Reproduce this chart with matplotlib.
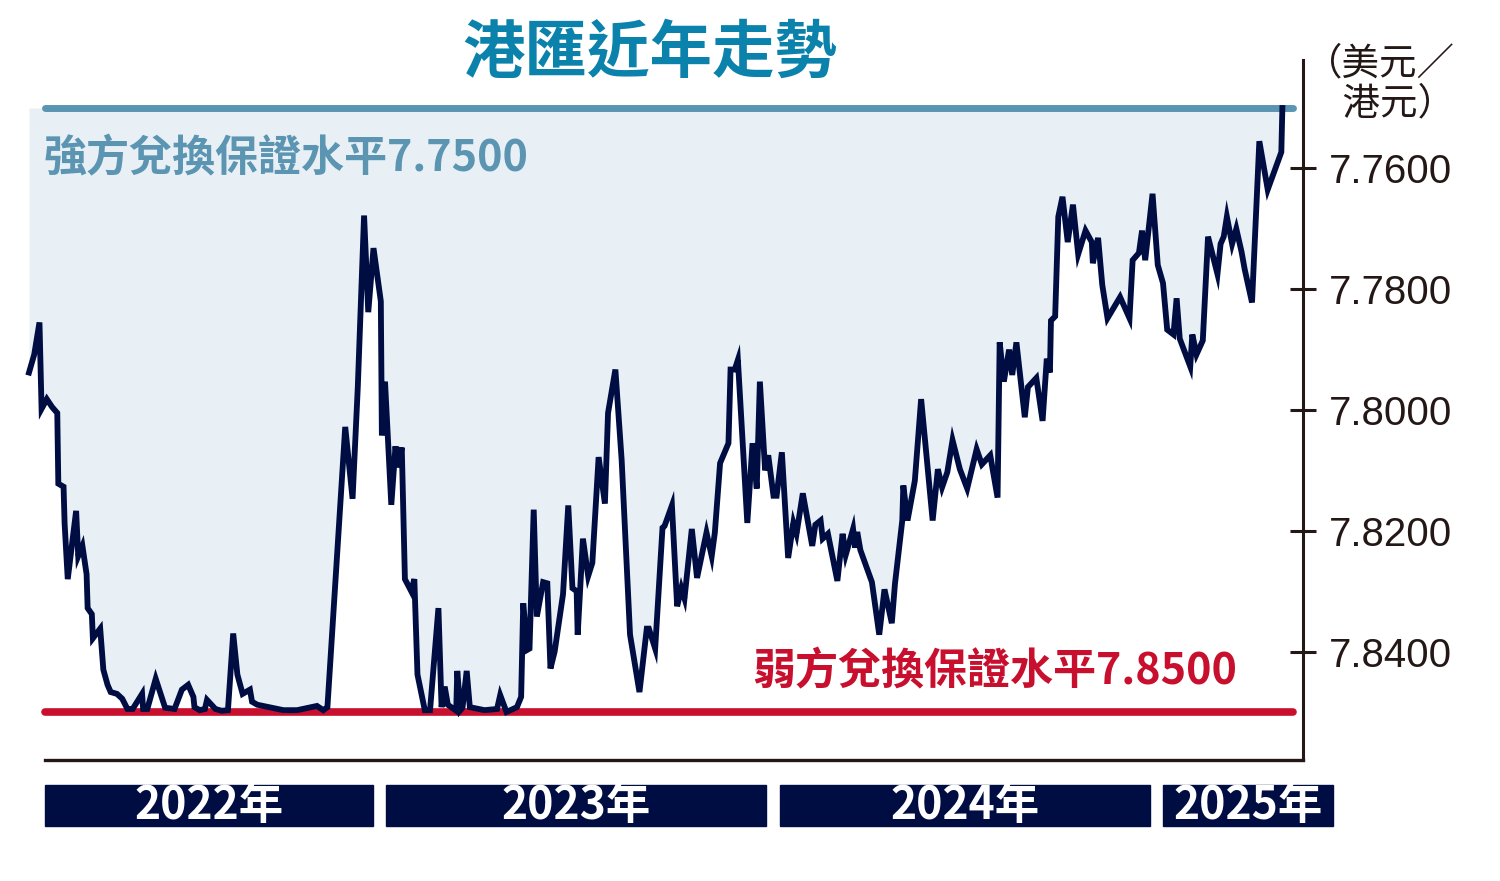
import numpy as np
import matplotlib
matplotlib.use("Agg")
import matplotlib.pyplot as plt
from matplotlib.patches import Rectangle

# ---------------- data ----------------
start_date = "2022-01-24"  # day 0 of the series
days = [0, 5, 10, 12, 17, 22, 27, 28, 33, 34, 37, 45, 47, 51, 55, 56, 60, 61, 68, 71,
        75, 78, 84, 89, 94, 99, 108, 109, 113, 121, 130, 139, 146, 152, 157, 158, 163, 168, 170, 178,
        184, 190, 195,
        199, 204, 211, 213, 218, 243, 256, 275, 281, 285, 302, 309, 314, 320, 324, 329, 336, 337, 340,
        346, 350, 352, 356, 359, 365, 368, 371, 378, 383, 391,
        394, 397, 400, 408, 409, 412, 414, 418, 421, 435, 447, 450, 456, 466, 470, 472, 476, 478, 482,
        485, 491, 495, 498, 502, 510, 515, 519, 523, 524, 529, 534, 538, 544, 550, 553, 560, 566, 574, 583,
        590, 592, 598, 605, 607, 614, 619, 623, 626, 633, 638, 647, 652, 655, 660, 668, 670, 674, 677,
        686, 691, 695, 698, 703, 706, 711, 714, 719, 725, 730, 733, 739,
        748, 751, 756, 758, 763, 772, 777, 780, 787, 789, 791, 794, 805, 812, 817, 824, 827, 834, 835,
        839, 846, 852, 863, 868, 872, 877, 882, 889, 896, 905, 910, 918, 925, 927, 931, 936, 939, 943,
        951, 954, 962, 968, 972, 975, 976, 980, 983, 987, 992, 997, 1002, 1009, 1015, 1016, 1021, 1025,
        1030, 1042, 1051, 1054, 1060, 1063, 1066, 1073, 1078, 1083, 1087, 1093, 1096, 1099, 1109, 1111,
        1115, 1121, 1126, 1135, 1138, 1141, 1144, 1149, 1153, 1158, 1161, 1168, 1175, 1183, 1196, 1197]

usd_hkd = [7.7938, 7.7908, 7.7855, 7.7998, 7.7982, 7.7995, 7.8005, 7.8122, 7.8127, 7.8188, 7.8280,
           7.8167, 7.8242, 7.8225, 7.8272, 7.8328, 7.8338, 7.8378, 7.8362, 7.8430, 7.8455, 7.8467,
           7.8470, 7.8478, 7.8495, 7.8495, 7.8470, 7.8495, 7.8495, 7.8445, 7.8493, 7.8495, 7.8463,
           7.8455, 7.8475, 7.8492, 7.8497, 7.8495, 7.8480, 7.8495, 7.8498, 7.8497, 7.8370,
           7.8438, 7.8470, 7.8463, 7.8483, 7.8488, 7.8497, 7.8497, 7.8490, 7.8497, 7.8492, 7.8028,
           7.8147, 7.7962, 7.7678, 7.7838, 7.7732, 7.7820, 7.8042, 7.7953, 7.8157, 7.8060, 7.8095,
           7.8062, 7.8280, 7.8300, 7.8280, 7.8438, 7.8497, 7.8497, 7.8328,
           7.8492, 7.8458, 7.8488, 7.8498, 7.8432, 7.8497, 7.8493, 7.8432, 7.8492, 7.8497, 7.8495,
           7.8472, 7.8500, 7.8492, 7.8475, 7.8320, 7.8397, 7.8395, 7.8165, 7.8342, 7.8285, 7.8287,
           7.8428, 7.8400, 7.8305, 7.8158, 7.8295, 7.8300, 7.8372, 7.8213, 7.8275, 7.8253, 7.8078,
           7.8155, 7.8005, 7.7933, 7.8083, 7.8372, 7.8467,
           7.8362, 7.8362, 7.8395, 7.8195, 7.8192, 7.8158, 7.8325, 7.8295, 7.8312, 7.8197, 7.8278,
           7.8203, 7.8242, 7.8203, 7.8088, 7.8055, 7.7933, 7.7933, 7.7917, 7.8187, 7.8055, 7.8130,
           7.7953, 7.8100, 7.8075, 7.8142, 7.8142, 7.8070, 7.8245, 7.8187, 7.8205, 7.8138,
           7.8225, 7.8190, 7.8183, 7.8213, 7.8205, 7.8283, 7.8205, 7.8240, 7.8197, 7.8228, 7.8202,
           7.8232, 7.8285, 7.8372, 7.8297, 7.8353, 7.8288, 7.8183, 7.8125, 7.8183, 7.8117, 7.7982,
           7.8183, 7.8098, 7.8128, 7.8103, 7.8050, 7.8098, 7.8130, 7.8065, 7.8090, 7.8075, 7.8145,
           7.7888, 7.7953, 7.7900, 7.7942, 7.7888, 7.8012, 7.7962, 7.7947, 7.8018, 7.7915, 7.7938,
           7.7852, 7.7845, 7.7680, 7.7647, 7.7722, 7.7660, 7.7742, 7.7703, 7.7722, 7.7757, 7.7715,
           7.7793, 7.7848, 7.7813, 7.7848, 7.7752, 7.7740, 7.7703, 7.7752, 7.7642, 7.7760, 7.7790,
           7.7867, 7.7875, 7.7815, 7.7882, 7.7928, 7.7875, 7.7908, 7.7885, 7.7713, 7.7775, 7.7725,
           7.7713, 7.7680, 7.7725, 7.7700, 7.7738, 7.7767, 7.7822, 7.7555, 7.7635, 7.7573, 7.7500]

strong_level = 7.75
weak_level = 7.85
strong_label = "強方兌換保證水平7.7500"
weak_label = "弱方兌換保證水平7.8500"
ytick_values = [7.76, 7.78, 7.80, 7.82, 7.84]
ytick_labels = ["7.7600", "7.7800", "7.8000", "7.8200", "7.8400"]
year_labels = ["2022年", "2023年", "2024年", "2025年"]
title = "港匯近年走勢"
unit_label = "（美元／\n\u3000港元）"

# ---------------- style ----------------
W, H = 1500, 881
CJK = ["Noto Sans CJK TC", "DejaVu Sans"]
plt.rcParams["font.family"] = CJK

navy = "#000d42"
fill_col = "#e8f0f6"
teal = "#5b95b2"
red = "#c8102e"
title_col = "#0a82ab"
axis_col = "#231815"


def fx(px):
    return px / W


def fy(py):
    return 1 - py / H


fig = plt.figure(figsize=(W / 100, H / 100), dpi=100)
ax = fig.add_axes([fx(20), fy(760), fx(1303) - fx(20), fy(60) - fy(760)])

x = np.array(days, dtype=float)
y = np.array(usd_hkd)

ax.fill_between(x, y, strong_level, color=fill_col, lw=0, zorder=1)
ax.plot([15.3, 1207], [strong_level, strong_level], color=teal, lw=5.0,
        solid_capstyle="round", zorder=2)
ax.plot([15.3, 1207], [weak_level, weak_level], color=red, lw=5.5,
        solid_capstyle="round", zorder=2)
ax.plot(x, y, color=navy, lw=4.2, solid_joinstyle="miter", zorder=3)

ax.set_xlim(-8.6, 1216.7)
ax.set_ylim(7.85795, 7.74205)

for s in ["top", "left"]:
    ax.spines[s].set_visible(False)
ax.spines["right"].set_color(axis_col)
ax.spines["right"].set_linewidth(2.2)
ax.spines["bottom"].set_color(axis_col)
ax.spines["bottom"].set_linewidth(2.4)
ax.spines["bottom"].set_bounds(15.3, 1216.7)
ax.set_xticks([])
ax.yaxis.tick_right()
ax.set_yticks(ytick_values)
ax.set_yticklabels(ytick_labels, fontfamily="Liberation Sans", fontsize=29, color=axis_col)
ax.tick_params(axis="y", direction="inout", length=19, width=2.2, color=axis_col, pad=9)
ax.patch.set_alpha(0)

# labels
fig.text(fx(650), fy(53), title, ha="center", va="center", fontsize=45,
         fontweight="bold", color=title_col)
fig.text(fx(44), fy(158), strong_label, ha="left", va="center", fontsize=31,
         fontweight="bold", color=teal)
fig.text(fx(752), fy(671), weak_label, ha="left", va="center", fontsize=31,
         fontweight="bold", color=red)
fig.text(fx(1305), fy(84), unit_label, ha="left", va="center", fontsize=27,
         color=axis_col, linespacing=1.02)

# year bars
bars = [(45, 373), (386, 766), (780, 1150), (1163, 1333)]
for (x0, x1), lab in zip(bars, year_labels):
    fig.patches.append(Rectangle((fx(x0), fy(826)), fx(x1) - fx(x0), fy(785) - fy(826),
                                 transform=fig.transFigure, color=navy, zorder=1))
    fig.text(fx((x0 + x1) / 2), fy(806), lab, ha="center", va="center", fontsize=32,
             fontweight="bold", color="white")

fig.savefig("out.png", dpi=100, facecolor="white")
